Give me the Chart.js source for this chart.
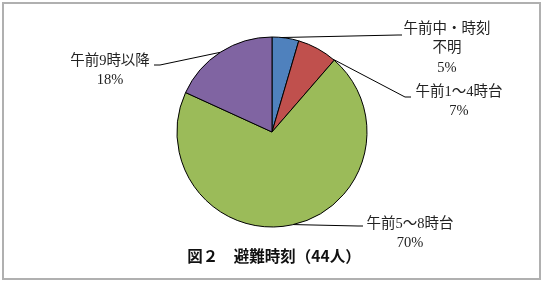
<!DOCTYPE html>
<html>
<head>
<meta charset="utf-8">
<script src="https://cdn.jsdelivr.net/npm/chart.js@4.4.1/dist/chart.umd.min.js"></script>
<style>
html,body{margin:0;padding:0;background:#fff;}
#wrap{width:543px;height:281px;position:relative;}
</style>
</head>
<body>
<div id="wrap"><canvas id="c" width="543" height="281"></canvas></div>
<script>
// ---- data ----
const categories = ["午前中・時刻不明", "午前1～4時台", "午前5～8時台", "午前9時以降"];
const labelLines = [["午前中・時刻", "不明"], ["午前1～4時台"], ["午前5～8時台"], ["午前9時以降"]];
const counts = [2, 3, 31, 8];
const titleText = "図２　避難時刻（44人）";

// ---- styles / layout ----
const colors = ["#4F81BD", "#C0504D", "#9BBB59", "#8064A2"];
const labelPos = [
  {x: 447, y: 29, anchorDeg: 6,   bend: [398, 35], end: [402, 35]},
  {x: 459, y: 92, anchorDeg: 40,  bend: [405, 97], end: [411, 97]},
  {x: 410, y: 224, anchorDeg: 167, bend: [358, 226], end: [363, 226]},
  {x: 110, y: 61, anchorDeg: 327, bend: [160, 65], end: [154, 65]}
];
const lineH = 19.5;
const labelFont = "14.5px 'Liberation Serif', 'Noto Sans CJK JP'";

const total = counts.reduce((a, b) => a + b, 0);

const decor = {
  id: 'decor',
  beforeDraw(chart) {
    const ctx = chart.ctx;
    ctx.save();
    ctx.fillStyle = '#fff';
    ctx.fillRect(0, 0, chart.width, chart.height);
    ctx.strokeStyle = '#b0b0b0';
    ctx.lineWidth = 2;
    ctx.strokeRect(3, 3, chart.width - 6, chart.height - 5);
    ctx.restore();
  },
  afterDraw(chart) {
    const ctx = chart.ctx;
    const meta = chart.getDatasetMeta(0);
    const arc0 = meta.data[0];
    const cx = arc0.x, cy = arc0.y, r = arc0.outerRadius;
    ctx.save();
    // leader lines
    ctx.strokeStyle = '#000';
    ctx.lineWidth = 1;
    labelPos.forEach(p => {
      const a = p.anchorDeg * Math.PI / 180;
      const sx = cx + r * Math.sin(a), sy = cy - r * Math.cos(a);
      ctx.beginPath();
      ctx.moveTo(sx, sy);
      ctx.lineTo(p.bend[0], p.bend[1]);
      ctx.lineTo(p.end[0], p.end[1]);
      ctx.stroke();
    });
    // labels
    ctx.fillStyle = '#222';
    ctx.font = labelFont;
    ctx.textAlign = 'center';
    ctx.textBaseline = 'middle';
    labelLines.forEach((lines, i) => {
      const p = labelPos[i];
      const pct = Math.round(counts[i] / total * 100) + '%';
      const all = lines.concat([pct]);
      all.forEach((t, k) => ctx.fillText(t, p.x, p.y + k * lineH));
    });
    // title
    ctx.fillStyle = '#111';
    ctx.font = "bold 15.5px 'Noto Sans CJK JP'";
    ctx.fillText(titleText, 274, 256);
    ctx.restore();
  }
};

new Chart(document.getElementById('c'), {
  type: 'pie',
  data: {
    labels: categories,
    datasets: [{
      data: counts,
      backgroundColor: colors,
      borderColor: '#000',
      borderWidth: 1,
      radius: 95
    }]
  },
  options: {
    responsive: false,
    animation: false,
    layout: {padding: {left: 11, right: 10, top: 10, bottom: 27}},
    plugins: {legend: {display: false}, tooltip: {enabled: false}, title: {display: false}}
  },
  plugins: [decor]
});
</script>
</body>
</html>
